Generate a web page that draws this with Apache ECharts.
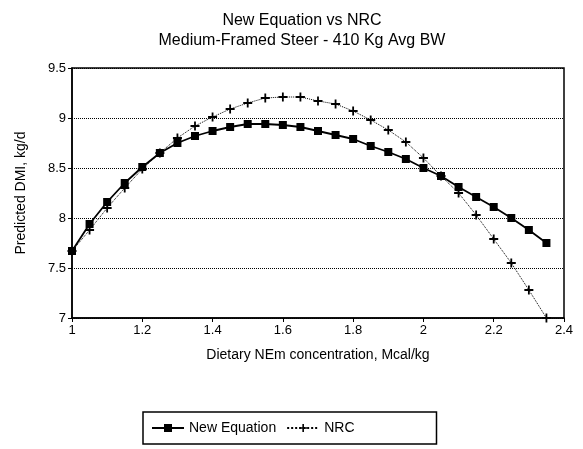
<!DOCTYPE html>
<html>
<head>
<meta charset="utf-8">
<script src="https://cdn.jsdelivr.net/npm/echarts@6/dist/echarts.min.js"></script>
<style>
  html, body { margin: 0; padding: 0; background: #fff; }
  #chart { width: 583px; height: 449px; }
</style>
</head>
<body>
<div id="chart"></div>
<script>
// NEm concentration, Mcal/kg
const nemLevels = [1.0, 1.05, 1.1, 1.15, 1.2, 1.25, 1.3, 1.35, 1.4, 1.45, 1.5, 1.55, 1.6, 1.65,
  1.7, 1.75, 1.8, 1.85, 1.9, 1.95, 2.0, 2.05, 2.1, 2.15, 2.2, 2.25, 2.3, 2.35]
// predicted DMI, kg/d
const newEquation = [7.67, 7.94, 8.16, 8.35, 8.51, 8.65, 8.75, 8.82, 8.87, 8.91, 8.94, 8.94, 8.93, 8.91,
  8.87, 8.83, 8.79, 8.72, 8.66, 8.59, 8.50, 8.42, 8.31, 8.21, 8.11, 8.00, 7.88, 7.75]
const nrc = [7.67, 7.88, 8.10, 8.30, 8.49, 8.65, 8.80, 8.92, 9.01, 9.09, 9.15, 9.20, 9.21, 9.21,
  9.17, 9.14, 9.07, 8.98, 8.88, 8.76, 8.60, 8.42, 8.25, 8.03, 7.79, 7.55, 7.28, 7.00]

const font = "Liberation Sans, Arial, sans-serif"
const plus = "path://M4,0H6V4H10V6H6V10H4V6H0V4H4Z"

const toPairs = (ys) => nemLevels.map((x, i) => [x, ys[i]])

const chart = echarts.init(document.getElementById("chart"))

chart.setOption({
  animation: false,
  textStyle: {fontFamily: font, color: "#000"},
  title: {
    text: "New Equation vs NRC\nMedium-Framed Steer - 410 Kg Avg BW",
    left: 297,
    textAlign: "center",
    top: 6,
    textStyle: {fontFamily: font, fontSize: 16, fontWeight: "normal", color: "#000", lineHeight: 20},
  },
  grid: {
    left: 72,
    right: 19,
    top: 68,
    bottom: 131,
    show: true,
    borderColor: "#000",
    borderWidth: 1.5,
  },
  xAxis: {
    type: "value",
    min: 1,
    max: 2.4,
    interval: 0.2,
    name: "Dietary NEm concentration, Mcal/kg",
    nameLocation: "middle",
    nameGap: 30,
    nameTextStyle: {fontSize: 14, color: "#000"},
    axisLine: {lineStyle: {color: "#000", width: 1.5}},
    axisTick: {show: true, length: 4, lineStyle: {color: "#000"}},
    axisLabel: {color: "#000", fontSize: 13, margin: 6},
    splitLine: {show: false},
  },
  yAxis: {
    type: "value",
    min: 7,
    max: 9.5,
    interval: 0.5,
    name: "Predicted DMI, kg/d",
    nameLocation: "middle",
    nameGap: 44,
    nameTextStyle: {fontSize: 14, color: "#000"},
    axisLine: {show: true, lineStyle: {color: "#000", width: 1.5}},
    axisTick: {show: true, length: 4, lineStyle: {color: "#000"}},
    axisLabel: {color: "#000", fontSize: 13, margin: 6},
    splitLine: {show: true, lineStyle: {color: "#000", type: "dotted", width: 1}},
  },
  legend: {
    top: 412,
    left: 143,
    itemGap: 10,
    itemWidth: 32,
    itemHeight: 10,
    padding: [9, 82, 9, 8],
    borderColor: "#000",
    borderWidth: 1.5,
    textStyle: {fontSize: 14, color: "#000"},
    data: ["New Equation", "NRC"],
  },
  series: [
    {
      name: "New Equation",
      type: "line",
      data: toPairs(newEquation),
      symbol: "rect",
      symbolSize: 8,
      lineStyle: {color: "#000", width: 1.8},
      itemStyle: {color: "#000"},
      z: 3,
    },
    {
      name: "NRC",
      type: "line",
      data: toPairs(nrc),
      symbol: plus,
      symbolSize: 9,
      lineStyle: {color: "#000", width: 1, type: "dotted"},
      itemStyle: {color: "#000"},
      z: 2,
    },
  ],
})
</script>
</body>
</html>
